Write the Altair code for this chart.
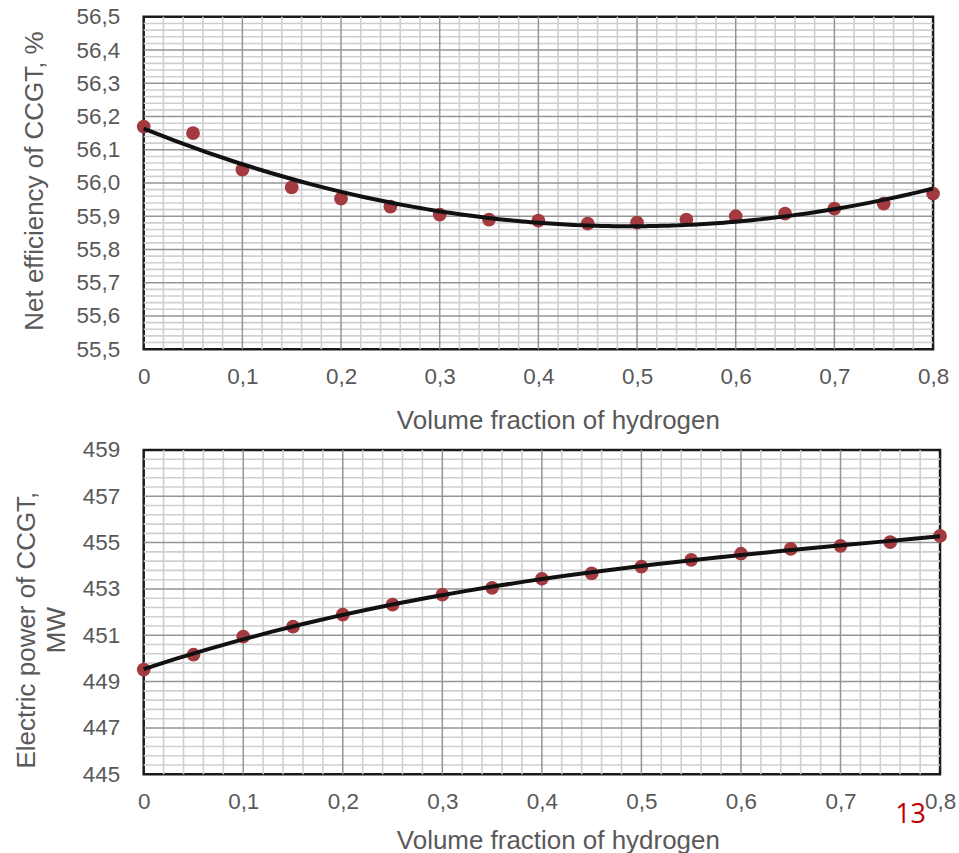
import altair as alt
import pandas as pd

# ---- data ----
h2 = [0.0, 0.05, 0.1, 0.15, 0.2, 0.25, 0.3, 0.35, 0.4, 0.45, 0.5, 0.55, 0.6, 0.65, 0.7, 0.75, 0.8]
efficiency = [56.17, 56.15, 56.04, 55.987, 55.953, 55.929, 55.905, 55.89, 55.887, 55.878,
              55.881, 55.89, 55.9, 55.908, 55.923, 55.938, 55.968]
power = [449.52, 450.16, 450.94, 451.37, 451.89, 452.32, 452.75, 453.05, 453.44, 453.67,
         453.96, 454.26, 454.52, 454.73, 454.86, 455.02, 455.29]

x_ticks = [i / 10 for i in range(9)]
x_major = [i / 10 for i in range(1, 8)]
x_minor = [i / 50 for i in range(41) if i % 5]
eff_ticks = [round(55.5 + i / 10, 1) for i in range(11)]
eff_major = eff_ticks[1:-1]
eff_minor = [round(55.5 + i / 50, 2) for i in range(51) if i % 5]
pow_ticks = list(range(445, 460, 2))
pow_major = pow_ticks[1:-1]
pow_minor = [round(445 + i * 0.4, 1) for i in range(36) if i % 5]

x_title = "Volume fraction of hydrogen"
eff_title = "Net efficiency of CCGT, %"
pow_title = ["Electric power of CCGT,", "MW"]
page_number = ["13"]

FONT = "Liberation Sans"
GRAY = "#595959"
POINT = "#A33A40"
MINOR = "#cfcfcf"
MAJOR = "#959595"


def panel(yvals, ydomain, yticks, ymajor, yminor, ytitle, ylabel_expr, width, height,
          ytitle_x, ytitle_y, xtitle_y, order):
    xs = alt.Scale(domain=[0, 0.8], nice=False, zero=False)
    ys = alt.Scale(domain=ydomain, nice=False, zero=False)
    df = pd.DataFrame({"h2": h2, "y": yvals})

    xaxis = alt.Axis(
        values=x_ticks, grid=False, ticks=False, domain=False,
        labelExpr="datum.value == 0 ? '0' : replace(format(datum.value, '.1f'), '.', ',')",
        labelFont=FONT, labelFontSize=22.5, labelColor=GRAY, labelPadding=16,
        labelFlush=False, labelOverlap=False,
        title=x_title, titleFont=FONT, titleFontSize=26, titleFontWeight="normal",
        titleColor=GRAY, titleX=415, titleY=xtitle_y, titleBaseline="alphabetic")
    yaxis = alt.Axis(
        values=yticks, grid=False, ticks=False, domain=False,
        labelExpr=ylabel_expr,
        labelFont=FONT, labelFontSize=22.5, labelColor=GRAY, labelPadding=24,
        labelFlush=False, labelOverlap=False,
        title=ytitle, titleFont=FONT, titleFontSize=26, titleFontWeight="normal",
        titleColor=GRAY, titleX=ytitle_x, titleY=ytitle_y, titleBaseline="alphabetic",
        titleLineHeight=30)

    vminor = alt.Chart(pd.DataFrame({"v": x_minor})).mark_rule(
        color=MINOR, strokeWidth=1.6).encode(x=alt.X("v:Q", scale=xs, axis=xaxis))
    hminor = alt.Chart(pd.DataFrame({"v": yminor})).mark_rule(
        color=MINOR, strokeWidth=1.6).encode(y=alt.Y("v:Q", scale=ys, axis=yaxis))
    vmajor = alt.Chart(pd.DataFrame({"v": x_major})).mark_rule(
        color=MAJOR, strokeWidth=1.5).encode(x=alt.X("v:Q", scale=xs, axis=xaxis))
    hmajor = alt.Chart(pd.DataFrame({"v": ymajor})).mark_rule(
        color=MAJOR, strokeWidth=1.5).encode(y=alt.Y("v:Q", scale=ys, axis=yaxis))

    points = alt.Chart(df).mark_circle(size=190, color=POINT, opacity=1).encode(
        x=alt.X("h2:Q", scale=xs, axis=xaxis),
        y=alt.Y("y:Q", scale=ys, axis=yaxis))
    trend = alt.Chart(df).transform_regression(
        "h2", "y", method="poly", order=order, extent=[0, 0.8]
    ).mark_line(color="#111111", strokeWidth=4).encode(
        x=alt.X("h2:Q", scale=xs, axis=xaxis), y=alt.Y("y:Q", scale=ys, axis=yaxis))

    return alt.layer(vminor, hminor, vmajor, hmajor, points, trend).properties(
        width=width, height=height)


top = panel(efficiency, [55.5, 56.5], eff_ticks, eff_major, eff_minor, eff_title,
            "replace(format(datum.value, '.1f'), '.', ',')", 791, 333, -101, 164, 79, 2)

bottom_base = panel(power, [445, 459], pow_ticks, pow_major, pow_minor, pow_title,
                    "format(datum.value, '.0f')", 798, 325, -109, 180, 74, 3)

num = alt.Chart(pd.DataFrame({"t": page_number})).mark_text(
    font="Open Sans", fontSize=27, color="#C00000", align="left",
    baseline="alphabetic").encode(
    text="t:N", x=alt.value(753), y=alt.value(374))

bottom = alt.layer(bottom_base, num).properties(width=798, height=325)

chart = alt.vconcat(top, bottom, spacing=101, bounds="flush").properties(
    padding={"left": 12, "top": 3, "right": 2, "bottom": 2},
    background="white",
).configure_view(stroke="#1a1a1a", strokeWidth=2.5)

chart.save("out.html", embed_options={"renderer": "svg", "actions": False})
